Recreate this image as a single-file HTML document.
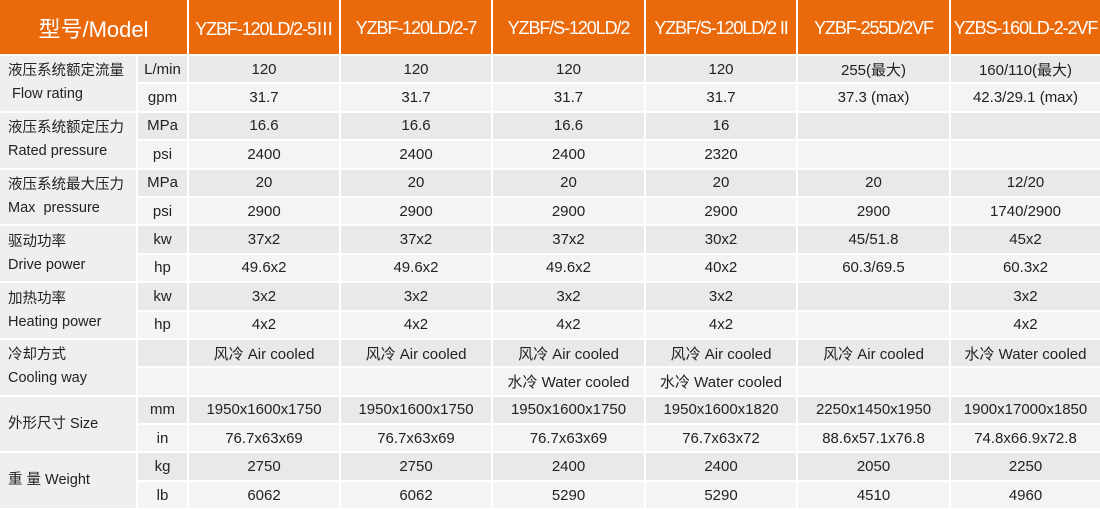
<!DOCTYPE html>
<html><head><meta charset="utf-8"><style>
body{margin:0;width:1100px;height:509px;background:#fff;overflow:hidden}
.g{display:grid;grid-template-columns:136px 49px 150px 150px 151px 150px 151px 149px;grid-template-rows:54px repeat(16,26.4px);gap:2px;font-family:"Liberation Sans","Noto Sans CJK SC",sans-serif;font-size:15px;color:#222}
.g div{display:flex;align-items:center;justify-content:center;background:#efefef;white-space:nowrap}
.g .a{background:#e9e9e9}.g .b{background:#f4f4f4}
.h{background:#ea6a0b!important;color:#fff;font-size:18px;letter-spacing:-1.1px;padding-top:2px}
.hm{font-size:22px;letter-spacing:0}
.l{grid-row:span 2;flex-direction:column;align-items:flex-start!important;justify-content:center!important;padding-left:8px;line-height:23px;font-size:14.5px;background:#efefef!important}
</style></head><body><div class="g">
<div class="h hm" style="grid-column:span 2">型号/Model</div>
<div class="h">YZBF-120LD/2-5Ⅲ</div><div class="h">YZBF-120LD/2-7</div><div class="h">YZBF/S-120LD/2</div><div class="h">YZBF/S-120LD/2 II</div><div class="h">YZBF-255D/2VF</div><div class="h">YZBS-160LD-2-2VF</div>

<div class="l">液压系统额定流量<span>&nbsp;Flow rating</span></div>
<div class="a">L/min</div><div class="a">120</div><div class="a">120</div><div class="a">120</div><div class="a">120</div><div class="a">255(最大)</div><div class="a">160/110(最大)</div>
<div class="b">gpm</div><div class="b">31.7</div><div class="b">31.7</div><div class="b">31.7</div><div class="b">31.7</div><div class="b">37.3 (max)</div><div class="b">42.3/29.1 (max)</div>

<div class="l">液压系统额定压力<span>Rated pressure</span></div>
<div class="a">MPa</div><div class="a">16.6</div><div class="a">16.6</div><div class="a">16.6</div><div class="a">16</div><div class="a"></div><div class="a"></div>
<div class="b">psi</div><div class="b">2400</div><div class="b">2400</div><div class="b">2400</div><div class="b">2320</div><div class="b"></div><div class="b"></div>

<div class="l">液压系统最大压力<span>Max&nbsp; pressure</span></div>
<div class="a">MPa</div><div class="a">20</div><div class="a">20</div><div class="a">20</div><div class="a">20</div><div class="a">20</div><div class="a">12/20</div>
<div class="b">psi</div><div class="b">2900</div><div class="b">2900</div><div class="b">2900</div><div class="b">2900</div><div class="b">2900</div><div class="b">1740/2900</div>

<div class="l">驱动功率<span>Drive power</span></div>
<div class="a">kw</div><div class="a">37x2</div><div class="a">37x2</div><div class="a">37x2</div><div class="a">30x2</div><div class="a">45/51.8</div><div class="a">45x2</div>
<div class="b">hp</div><div class="b">49.6x2</div><div class="b">49.6x2</div><div class="b">49.6x2</div><div class="b">40x2</div><div class="b">60.3/69.5</div><div class="b">60.3x2</div>

<div class="l">加热功率<span>Heating power</span></div>
<div class="a">kw</div><div class="a">3x2</div><div class="a">3x2</div><div class="a">3x2</div><div class="a">3x2</div><div class="a"></div><div class="a">3x2</div>
<div class="b">hp</div><div class="b">4x2</div><div class="b">4x2</div><div class="b">4x2</div><div class="b">4x2</div><div class="b"></div><div class="b">4x2</div>

<div class="l">冷却方式<span>Cooling way</span></div>
<div class="a"></div><div class="a">风冷 Air cooled</div><div class="a">风冷 Air cooled</div><div class="a">风冷 Air cooled</div><div class="a">风冷 Air cooled</div><div class="a">风冷 Air cooled</div><div class="a">水冷 Water cooled</div>
<div class="b"></div><div class="b"></div><div class="b"></div><div class="b">水冷 Water cooled</div><div class="b">水冷 Water cooled</div><div class="b"></div><div class="b"></div>

<div class="l">外形尺寸 Size</div>
<div class="a">mm</div><div class="a">1950x1600x1750</div><div class="a">1950x1600x1750</div><div class="a">1950x1600x1750</div><div class="a">1950x1600x1820</div><div class="a">2250x1450x1950</div><div class="a">1900x17000x1850</div>
<div class="b">in</div><div class="b">76.7x63x69</div><div class="b">76.7x63x69</div><div class="b">76.7x63x69</div><div class="b">76.7x63x72</div><div class="b">88.6x57.1x76.8</div><div class="b">74.8x66.9x72.8</div>

<div class="l">重 量 Weight</div>
<div class="a">kg</div><div class="a">2750</div><div class="a">2750</div><div class="a">2400</div><div class="a">2400</div><div class="a">2050</div><div class="a">2250</div>
<div class="b">lb</div><div class="b">6062</div><div class="b">6062</div><div class="b">5290</div><div class="b">5290</div><div class="b">4510</div><div class="b">4960</div>
</div></body></html>
